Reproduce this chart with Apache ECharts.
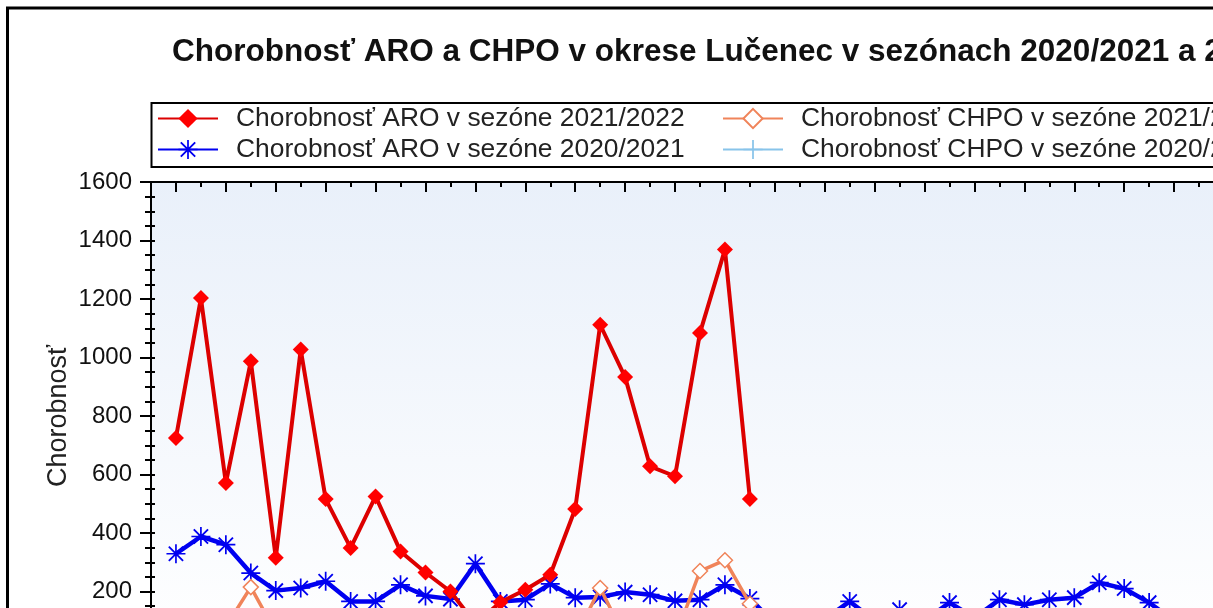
<!DOCTYPE html>
<html>
<head>
<meta charset="utf-8">
<script src="https://cdn.jsdelivr.net/npm/echarts@6/dist/echarts.min.js"></script>
<style>
  html, body { margin: 0; padding: 0; background: #fff; overflow: hidden; }
  #chart { width: 1213px; height: 608px; }
</style>
</head>
<body>
<div id="chart"></div>
<script>
// ---- data ----
const titleText = 'Chorobnosť ARO a CHPO v okrese Lučenec v sezónach 2020/2021 a 2021/2022';
const yAxisName = 'Chorobnosť';
const weeks = ['40','41','42','43','44','45','46','47','48','49','50','51','52',
  '1','2','3','4','5','6','7','8','9','10','11','12','13','14','15','16','17','18','19','20',
  '21','22','23','24','25','26','27','28','29'];
const seriesNames = [
  'Chorobnosť ARO v sezóne 2021/2022',
  'Chorobnosť ARO v sezóne 2020/2021',
  'Chorobnosť CHPO v sezóne 2021/2022',
  'Chorobnosť CHPO v sezóne 2020/2021'
];
const aro2122 = [725, 1203, 571, 987, 315, 1027, 516, 349, 525, 337, 265, 200, 90, 163, 206, 257,
  482, 1112, 933, 628, 594, 1084, 1369, 516];
const aro2021 = [329, 388, 360, 263, 203, 212, 235, 166, 166, 223, 185, 174, 295, 166, 172, 226,
  179, 181, 198, 189, 168, 172, 223, 176, 90, 95, 105, 166, 100, 138, 100, 162, 110, 172, 155,
  172, 179, 230, 210, 162, 100, 80];
const chpo2122 = [60, 70, 80, 215, 60, 50, 55, 45, 40, 50, 45, 35, 30, 40, 45, 50, 42, 212, 42,
  50, 40, 270, 307, 158];
const chpo2021 = [70, 80, 75, 60, 50, 45, 50, 40, 35, 45, 40, 35, 60, 35, 40, 45, 40, 38, 42, 40,
  35, 38, 45, 38, 30, 25, 28, 35, 30, 32, 30, 35, 30, 38, 35, 38, 40, 50, 45, 35, 30, 28];
const yMin = 0, yMax = 1600, yStep = 200;

// ---- chart ----
const FONT = "'Liberation Sans', Arial, sans-serif";
const chart = echarts.init(document.getElementById('chart'), null, { renderer: 'canvas' });
const toXY = arr => arr.map((v, i) => [i, v]);
const xMin = -1, xMax = weeks.length; // one empty slot on each side
const evenTicks = weeks.map((w, i) => i).filter(i => i % 2 === 0);

const asterisk = 'path://M9.1,0H10.9V20H9.1ZM0,9.1H20V10.9H0Z' +
  'M1.8,3.2L3.2,1.8L18.2,16.8L16.8,18.2ZM16.8,1.8L18.2,3.2L3.2,18.2L1.8,16.8Z';
const plus = 'path://M9.1,0H10.9V20H9.1ZM0,9.1H20V10.9H0Z';

const colRed = '#ff0000', colBlue = '#0000f0', colOrange = '#f0845a', colLight = '#88c4ea';

const legendText = { fontSize: 26.4, color: '#222', fontFamily: FONT, lineHeight: 31, padding: [0, 0, 0, 13] };

const option = {
  animation: false,
  backgroundColor: '#ffffff',
  textStyle: { fontFamily: FONT },
  title: {
    text: titleText,
    left: 167, top: 31,
    textStyle: { fontSize: 31.5, fontWeight: 'bold', color: '#111', fontFamily: FONT }
  },
  legend: [
    {
      data: [seriesNames[0], seriesNames[1]],
      orient: 'vertical', left: 152, top: 98, itemGap: 0,
      itemWidth: 60, itemHeight: 24,
      textStyle: legendText
    },
    {
      data: [seriesNames[2], seriesNames[3]],
      orient: 'vertical', left: 717, top: 98, itemGap: 0,
      itemWidth: 60, itemHeight: 24,
      textStyle: legendText
    }
  ],
  grid: {
    left: 151, top: 182, right: -11, bottom: -42,
    show: true, borderWidth: 0,
    backgroundColor: new echarts.graphic.LinearGradient(0, 0, 0, 1, [
      { offset: 0, color: '#e9f0fa' }, { offset: 1, color: '#ffffff' }
    ]),
    outerBoundsMode: 'none'
  },
  xAxis: [
    {
      type: 'value', position: 'bottom', min: xMin, max: xMax, interval: 1,
      axisLine: { show: true, onZero: false, lineStyle: { color: '#000', width: 2 } },
      axisTick: { show: true, inside: true, length: 5, lineStyle: { color: '#000', width: 2 } },
      axisLabel: { formatter: v => (weeks[v] !== undefined ? weeks[v] : ''), fontSize: 20, color: '#111' },
      splitLine: { show: false }
    },
    {
      type: 'value', position: 'top', min: xMin, max: xMax, interval: 1,
      axisLine: { show: true, onZero: false, lineStyle: { color: '#000', width: 2 } },
      axisTick: { show: true, inside: true, length: 5, lineStyle: { color: '#000', width: 2 } },
      axisLabel: { show: false }, splitLine: { show: false }
    },
    {
      type: 'value', position: 'top', min: xMin, max: xMax, interval: 1,
      axisLine: { show: false, onZero: false },
      axisTick: { show: true, inside: true, length: 10, customValues: evenTicks,
        lineStyle: { color: '#000', width: 2 } },
      axisLabel: { show: false }, splitLine: { show: false }
    }
  ],
  yAxis: [
    {
      type: 'value', min: yMin, max: yMax, interval: yStep, position: 'left',
      axisLine: { show: true, onZero: false, lineStyle: { color: '#000', width: 2 } },
      axisTick: { show: true, inside: false, length: 11, lineStyle: { color: '#000', width: 2 } },
      minorTick: { show: true, splitNumber: 4, length: 6, lineStyle: { color: '#000', width: 2 } },
      axisLabel: { fontSize: 24, color: '#111', margin: 19, fontFamily: FONT, formatter: v => String(v) },
      splitLine: { show: false }
    },
    {
      type: 'value', min: yMin, max: yMax, interval: yStep, position: 'left',
      axisLine: { show: false, onZero: false },
      axisTick: { show: true, inside: true, length: 4, lineStyle: { color: '#000', width: 2 } },
      minorTick: { show: true, splitNumber: 4, length: 4, lineStyle: { color: '#000', width: 2 } },
      axisLabel: { show: false }, splitLine: { show: false }
    }
  ],
  series: [
    {
      name: seriesNames[3], type: 'line', data: toXY(chpo2021),
      symbol: plus, symbolSize: 14,
      lineStyle: { color: colLight, width: 3 },
      itemStyle: { color: colLight }, z: 2
    },
    {
      name: seriesNames[1], type: 'line', data: toXY(aro2021),
      symbol: asterisk, symbolSize: 19,
      lineStyle: { color: colBlue, width: 4.5 },
      itemStyle: { color: colBlue }, z: 3
    },
    {
      name: seriesNames[2], type: 'line', data: toXY(chpo2122),
      symbol: 'diamond', symbolSize: 15,
      lineStyle: { color: colOrange, width: 3.5 },
      itemStyle: { color: '#ffffff', borderColor: colOrange, borderWidth: 1.5 }, z: 4
    },
    {
      name: seriesNames[0], type: 'line', data: toXY(aro2122),
      symbol: 'diamond', symbolSize: 16,
      lineStyle: { color: '#dc0000', width: 4 },
      itemStyle: { color: colRed }, z: 5
    }
  ],
  graphic: [
    {
      type: 'rect', silent: true, z: 100,
      shape: { x: 7.5, y: 8, width: 1400, height: 800 },
      style: { fill: 'none', stroke: '#000', lineWidth: 3 }
    },
    {
      type: 'rect', silent: true, z: 100,
      shape: { x: 151.5, y: 103, width: 1400, height: 64 },
      style: { fill: 'none', stroke: '#000', lineWidth: 2 }
    },
    {
      type: 'text', silent: true, z: 100,
      x: 59, y: 416, rotation: Math.PI / 2,
      style: {
        text: yAxisName, fill: '#222',
        font: "27px 'Liberation Sans', Arial, sans-serif",
        align: 'center', verticalAlign: 'middle',
        textAlign: 'center', textVerticalAlign: 'middle'
      }
    }
  ]
};
chart.setOption(option);
</script>
</body>
</html>
